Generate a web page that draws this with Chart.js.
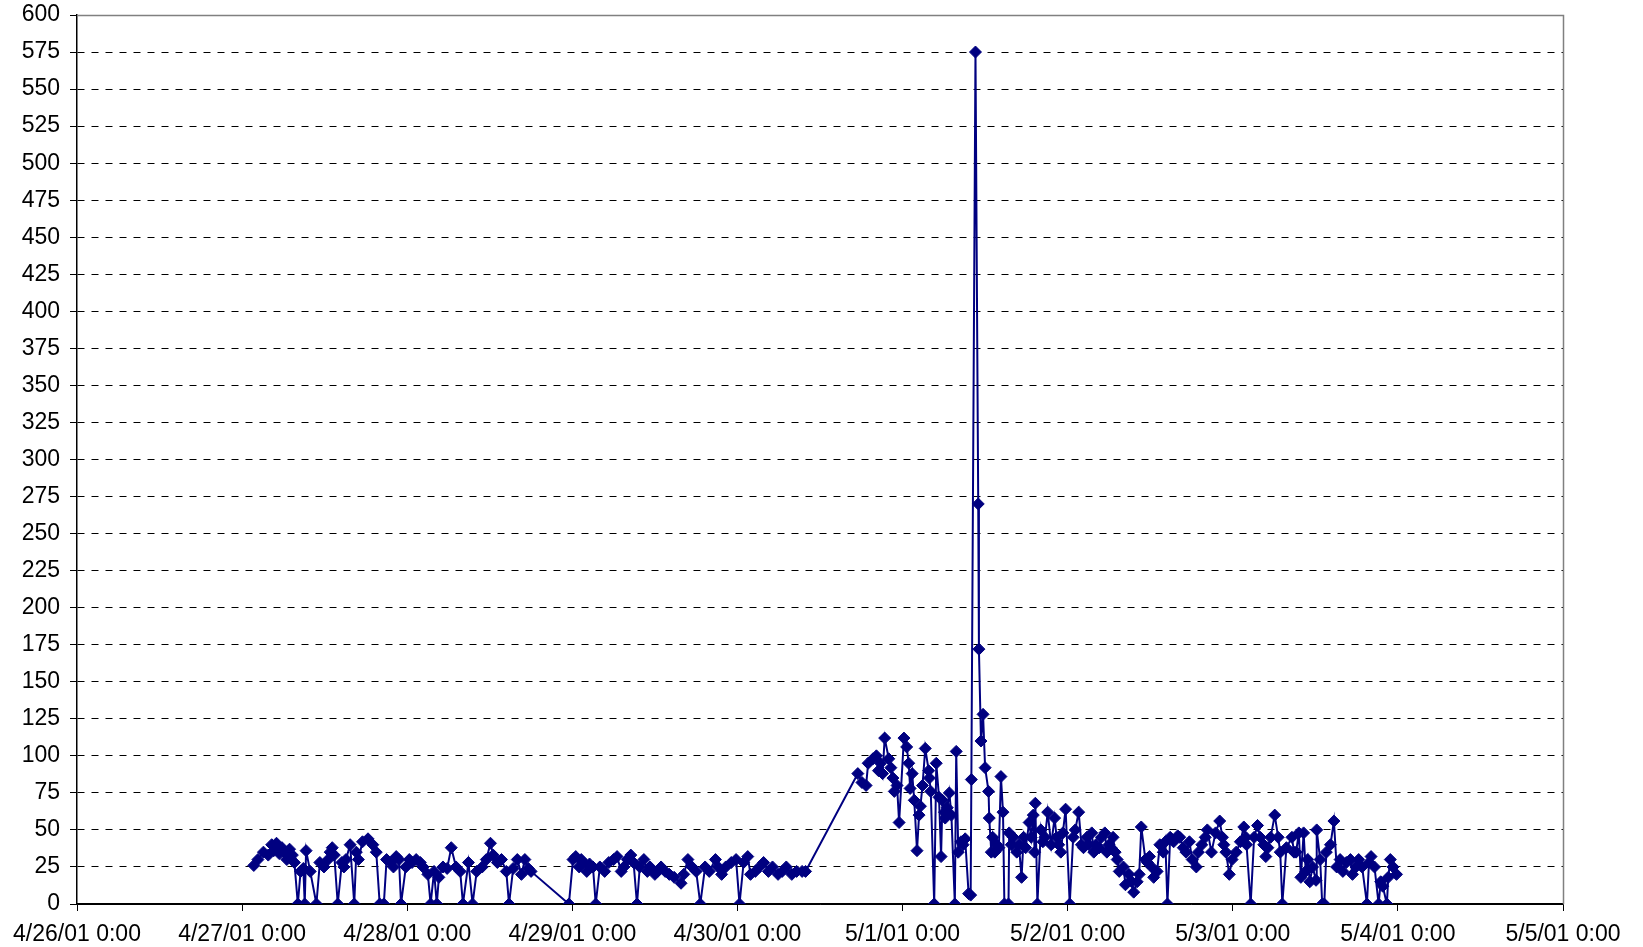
<!DOCTYPE html>
<html>
<head>
<meta charset="utf-8">
<script src="https://cdn.jsdelivr.net/npm/chart.js@4/dist/chart.umd.min.js"></script>
<style>
  html, body { margin: 0; padding: 0; background: #fff; }
  #wrap { width: 1643px; height: 947px; position: relative; }
</style>
</head>
<body>
<div id="wrap"><canvas id="c" width="1643" height="947"></canvas></div>
<script>
// x = hours since 4/26/01 0:00, y = reading
const seg0427 = [
  [25.7,26],[26.3,30],[27.1,35],[27.8,33],[28.3,40],[28.6,36],[29.0,41],[29.4,34],[29.8,38],[30.1,35],
  [30.5,30],[30.9,37],[31.3,33],[31.6,28],[32.1,0],[32.5,22],[32.9,24],[33.1,0],[33.3,36],[33.9,22],
  [34.8,0],[35.3,28],[35.9,25],[36.5,30],[36.8,35],[37.1,38],[37.4,33],[37.9,0],[38.5,28],[38.8,25],
  [39.1,30],[39.7,40],[40.3,0],[40.6,35],[40.9,30],[41.5,42],[42.3,44],[43.0,40],[43.5,35],[44.0,0],
  [44.6,0],[45.0,30],[45.6,28],[46.0,25],[46.4,32],[46.8,30],[47.1,0],[47.8,25],[48.3,30],[48.7,28],
  [49.3,30],[49.9,28],[50.3,25],[51.0,20],[51.4,0],[51.9,22],[52.3,0],[52.6,18],[53.2,25],[53.8,24],
  [54.4,38],[55.1,25],[55.7,22],[56.1,0],[56.9,28],[57.5,0],[58.1,22],[58.9,25],[59.5,30],[60.1,41],
  [60.5,33],[61.1,28],[61.7,30],[62.4,22],[62.8,0],[63.4,24],[64.0,30],[64.6,20],[65.1,30],[65.6,24],
  [66.0,22],[71.5,0]
];
const seg0429 = [
  [72.1,30],[72.5,32],[73.0,25],[73.3,30],[73.6,28],[74.1,22],[74.5,27],[75.0,25],[75.4,0],[76.0,25],
  [76.7,22],[77.3,28],[78.0,30],[78.5,32],[79.1,22],[79.5,25],[80.0,30],[80.5,33],[80.9,28],[81.4,0],
  [81.8,25],[82.4,30],[82.9,22],[83.3,25],[84.0,20],[84.4,22],[84.9,25],[85.5,22],[86.1,20],[86.8,18],
  [87.8,14],[88.2,20],[88.8,30],[89.4,25],[90.0,22],[90.6,0],[91.3,25],[91.9,22],[92.8,30],[93.2,25],
  [93.7,20],[94.3,25],[95.1,28],[95.8,30],[96.3,0],[96.9,28],[97.5,32],[97.9,20],[98.6,22],[99.2,25],
  [99.8,28],[100.5,22],[101.1,25],[101.9,20],[102.5,22],[103.1,25],[103.9,20],[104.6,22],[105.4,22],[105.9,22]
];
const seg0501 = [
  [113.5,88],[114.1,82],[114.7,80],[115.0,95],[115.7,98],[116.2,100],[116.5,90],[116.8,95],[117.1,88],[117.4,112],
  [118.0,98],[118.3,92],[118.6,85],[118.8,76],[119.2,80],[119.5,55],[120.2,112],[120.6,106],[120.9,95],[121.1,78],
  [121.4,88],[121.7,70],[122.1,36],[122.4,60],[122.6,66],[122.9,80],[123.3,105],[123.8,90],[123.9,85],[124.1,76],
  [124.6,0],[124.9,95],[125.3,72],[125.6,32],[125.8,70],[126.1,62],[126.2,58],[126.5,65],[126.8,75],[127.1,60],
  [127.6,0],[127.8,103],[128.1,35],[128.5,42],[128.8,40],[129.1,44],[129.6,7],[129.9,6],[130.0,84],[130.6,575],
  [131.0,270],[131.1,172],[131.4,110],[131.7,128],[132.0,92],[132.5,76],[132.6,58],[132.9,35],[133.1,45],[133.4,35],
  [133.7,40],[134.0,38],[134.3,86],[134.6,62],[134.8,0],[135.4,0],[135.5,48],[135.8,40],[136.1,45],[136.6,35],
  [136.9,40],[137.3,18],[137.6,45],[137.9,38],[138.4,55],[138.7,45],[139.0,60],[139.2,35],[139.3,68],[139.6,0]
];
const seg0502 = [
  [140.1,50],[140.4,42],[140.7,45],[141.1,62],[141.6,40],[142.1,58],[142.4,45],[142.7,40],[143.0,35],[143.3,48],
  [143.7,64],[144.3,0],[144.8,45],[145.1,50],[145.6,62],[146.0,40],[146.3,38],[146.8,45],[147.1,40],[147.5,48],
  [147.8,35],[148.1,40],[148.6,38],[148.9,45],[149.4,48],[149.7,35],[150.0,40],[150.3,38],[150.6,45],[150.9,35],
  [151.2,30],[151.5,22],[152.1,25],[152.4,13],[152.9,20],[153.3,15],[153.6,8],[154.1,15],[154.4,20],[154.7,52],
  [155.3,30],[155.6,28],[155.9,32],[156.2,25],[156.5,18],[157.0,22],[157.4,40],[157.9,35],[158.2,42],[158.5,0],
  [158.9,45],[159.4,42],[160.0,46],[160.3,45],[160.8,38],[161.2,35],[161.7,42],[162.1,30],[162.7,25],[163.0,35],
  [163.5,40],[164.0,45],[164.3,50],[164.9,35]
];
const seg0503 = [
  [165.5,48],[166.1,56],[166.5,45],[166.7,40],[167.0,35],[167.5,20],
  [167.9,30],[168.5,35],[169.1,42],[169.6,52],[169.9,45],[170.0,40],[170.6,0],[171.1,45],[171.6,53],[172.0,45],
  [172.5,40],[172.8,32],[173.1,38],[173.5,45],[174.1,60],[174.6,45],[174.9,35],[175.2,0],[175.8,38],[176.6,45],
  [176.9,35],[177.2,35],[177.6,48],[177.9,18],[178.3,48],[178.6,22],[178.9,30],[179.2,15],[179.6,25],[180.1,16],
  [180.2,50],[180.7,30],[181.0,0],[181.3,0],[181.6,35],[182.2,40],[182.7,56],[183.1,25],[183.6,30],[184.0,22],
  [184.5,28],[185.1,30],[185.4,20],[185.9,25],[186.3,30],[186.8,25],[187.5,0],[187.8,28],[188.1,32],[188.6,25],
  [189.2,0],[189.5,15],[189.8,12],[190.4,0],[190.6,18],[190.9,30],[191.3,25],[191.8,20]
];

const xStartUTC = Date.UTC(2001, 3, 26); // 4/26/01 0:00
const xMaxHours = 216;   // 5/5/01 0:00
const xStepHours = 24;
const yMax = 600;
const yStep = 25;

const points = [].concat(seg0427, seg0429, seg0501, seg0502, seg0503).map(p => ({ x: p[0], y: p[1] }));

function dayLabel(h) {
  const d = new Date(xStartUTC + h * 3600000);
  return (d.getUTCMonth() + 1) + '/' + d.getUTCDate() + '/01 0:00';
}

const frame = {
  id: 'frame',
  afterDatasetsDraw(chart) {
    const a = chart.chartArea, ctx = chart.ctx;
    ctx.save();
    ctx.strokeStyle = '#808080';
    ctx.lineWidth = 1.5;
    ctx.beginPath();
    ctx.moveTo(a.left, a.top + 0.5);
    ctx.lineTo(a.right + 0.5, a.top + 0.5);
    ctx.lineTo(a.right + 0.5, a.bottom);
    ctx.stroke();
    ctx.restore();
  }
};

const FONT = { family: '"Liberation Sans", Arial, sans-serif', size: 23 };

new Chart(document.getElementById('c'), {
  type: 'line',
  data: {
    datasets: [{
      data: points,
      borderColor: '#000080',
      backgroundColor: '#000080',
      borderWidth: 2,
      pointStyle: 'rectRot',
      pointRadius: 6,
      pointBorderWidth: 1,
      pointBorderColor: '#000080',
      pointBackgroundColor: '#000080',
      tension: 0,
      fill: false
    }]
  },
  options: {
    responsive: false,
    animation: false,
    events: [],
    layout: { padding: { top: 15, right: 80, left: 0, bottom: 0 } },
    plugins: { legend: { display: false }, tooltip: { enabled: false } },
    scales: {
      x: {
        type: 'linear',
        min: 0, max: xMaxHours,
        afterFit: s => { s.height = 43; s.paddingLeft = 0; s.paddingRight = 0; },
        ticks: {
          stepSize: xStepHours,
          autoSkip: false,
          maxRotation: 0,
          color: '#000',
          font: FONT,
          padding: 10,
          callback: v => dayLabel(v)
        },
        grid: { drawOnChartArea: false, drawTicks: true, tickLength: 7, color: '#000', lineWidth: 1 },
        border: { display: true, color: '#000', width: 1.5 }
      },
      y: {
        min: 0, max: yMax,
        afterFit: s => { s.width = 77; s.paddingTop = 0; s.paddingBottom = 0; },
        ticks: { stepSize: yStep, color: '#000', font: FONT, padding: 10 },
        grid: { color: '#000', lineWidth: 1, drawTicks: true, tickLength: 7, tickBorderDash: [] },
        border: {
          display: true, color: '#000', width: 1.5,
          dash: c => (c && c.tick && (c.tick.value === 0 || c.tick.value === yMax)) ? [] : [7, 7]
        }
      }
    }
  },
  plugins: [frame]
});
</script>
</body>
</html>
